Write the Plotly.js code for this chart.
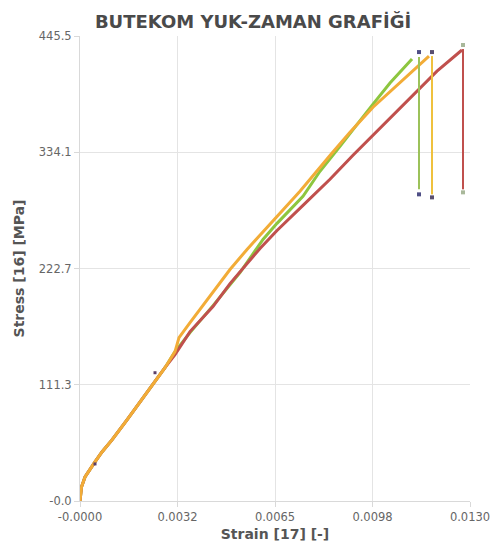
<!DOCTYPE html>
<html>
<head>
<meta charset="utf-8">
<script src="https://cdn.plot.ly/plotly-3.0.1.min.js"></script>
<style>html,body{margin:0;padding:0;background:#fff}#chart{width:500px;height:546px}</style>
</head>
<body>
<div id="chart"></div>
<script>
// ---- data ----
const xTickVals = [0, 0.00325, 0.0065, 0.00975, 0.013];
const xTickText = ["-0.0000", "0.0032", "0.0065", "0.0098", "0.0130"];
const yTickVals = [0, 111.375, 222.75, 334.125, 445.5];
const yTickText = ["-0.0", "111.3", "222.7", "334.1", "445.5"];

const redStrain = [0, 0.0000167, 0.00005, 0.000167, 0.000333, 0.0005, 0.000733, 0.001067, 0.001567, 0.002, 0.002433, 0.002833, 0.003167, 0.003667, 0.004433, 0.005, 0.006, 0.006567, 0.007433, 0.008333, 0.0091, 0.009767, 0.010567, 0.011233, 0.0119, 0.012733];
const redStress = [0, 6.7, 13.4, 23.0, 30.7, 37.4, 47.0, 58.6, 77.8, 95.1, 111.4, 127.7, 140.2, 162.3, 186.3, 208.3, 242.0, 259.2, 283.2, 308.2, 331.2, 350.4, 373.5, 392.7, 411.9, 432.1];
const redDropStrain = [0.012767, 0.012767];
const redDropStress = [433.0, 298.6];
const redEndStrain = [0.012767, 0.012767];
const redEndStress = [436.9, 295.7];

const greenStrain = [0, 0.0000167, 0.00005, 0.000167, 0.000333, 0.0005, 0.000733, 0.001067, 0.001567, 0.002, 0.002433, 0.002833, 0.003167, 0.003667, 0.004433, 0.005333, 0.0061, 0.006567, 0.007433, 0.008, 0.008667, 0.009433, 0.009767, 0.010333, 0.011067];
const greenStress = [0, 6.7, 13.4, 23.0, 30.7, 37.4, 47.0, 58.6, 77.8, 95.1, 111.4, 127.7, 143.1, 161.3, 187.2, 218.9, 250.6, 266.0, 291.9, 315.9, 339.9, 368.7, 380.2, 400.4, 423.4];
const greenDropStrain = [0.0113, 0.0113];
const greenDropStress = [425.3, 298.6];
const greenEndStrain = [0.0113, 0.0113];
const greenEndStress = [430.1, 293.8];

const yellowStrain = [0, 0.0000167, 0.00005, 0.000167, 0.000333, 0.0005, 0.000733, 0.001067, 0.001567, 0.002, 0.002433, 0.002833, 0.003167, 0.0033, 0.003667, 0.004433, 0.005, 0.005567, 0.006567, 0.007333, 0.008367, 0.009, 0.009767, 0.0105, 0.011233, 0.011633];
const yellowStress = [0, 6.7, 13.4, 23.0, 30.7, 37.4, 47.0, 58.6, 77.8, 95.1, 111.4, 127.7, 143.1, 156.5, 170.9, 199.7, 221.8, 241.0, 272.7, 296.7, 332.2, 353.3, 377.3, 396.5, 415.7, 426.3];
const yellowDropStrain = [0.011733, 0.011733];
const yellowDropStress = [426.3, 293.8];
const yellowEndStrain = [0.011733, 0.011733];
const yellowEndStress = [430.1, 290.9];

const dotStrain = [0.0005, 0.0025];
const dotStress = [35.5, 122.9];

// ---- styles ----
const RED = '#c0504d', GREEN = '#8dc63f', YELLOW = '#f2ac37';
const tickFont = {family: 'DejaVu Sans', size: 11.5, color: '#666666'};
const titleFont = {family: 'DejaVu Sans', size: 14, weight: 'bold', color: '#555555'};

const traces = [
  {x: greenStrain, y: greenStress, mode: 'lines', line: {color: GREEN, width: 3}},
  {x: redStrain, y: redStress, mode: 'lines', line: {color: RED, width: 3}},
  {x: yellowStrain, y: yellowStress, mode: 'lines', line: {color: YELLOW, width: 3}},
  {x: greenDropStrain, y: greenDropStress, mode: 'lines', line: {color: '#9cc25a', width: 2}},
  {x: yellowDropStrain, y: yellowDropStress, mode: 'lines', line: {color: '#efc13e', width: 2}},
  {x: redDropStrain, y: redDropStress, mode: 'lines', line: {color: RED, width: 2}},
  {x: greenEndStrain, y: greenEndStress, mode: 'markers', marker: {symbol: 'square', size: 4, color: '#4f4f86'}},
  {x: yellowEndStrain, y: yellowEndStress, mode: 'markers', marker: {symbol: 'square', size: 4, color: '#5a4f70'}},
  {x: redEndStrain, y: redEndStress, mode: 'markers', marker: {symbol: 'square', size: 4, color: '#a9b89a'}},
  {x: dotStrain, y: dotStress, mode: 'markers', marker: {symbol: 'square', size: 3, color: '#5a3f6a'}}
];
traces.forEach(t => { t.hoverinfo = 'skip'; t.cliponaxis = false; });

const axisBase = {
  showgrid: true, gridcolor: '#e4e4e4', gridwidth: 1,
  zeroline: false, showline: true, linecolor: '#d9d9d9', linewidth: 1,
  ticks: 'outside', ticklen: 5, tickcolor: '#d9d9d9',
  tickfont: tickFont, fixedrange: true
};

const layout = {
  width: 500, height: 546,
  margin: {l: 80, r: 30, t: 36, b: 45, pad: 0},
  paper_bgcolor: '#ffffff', plot_bgcolor: '#ffffff',
  showlegend: false,
  title: {
    text: 'BUTEKOM YUK-ZAMAN GRAFİĞİ',
    font: {family: 'DejaVu Sans', size: 18, weight: 'bold', color: '#4a4a4a'},
    xref: 'container', x: 0.506, xanchor: 'center',
    yref: 'container', y: 0.96, yanchor: 'middle'
  },
  xaxis: Object.assign({}, axisBase, {
    range: [0, 0.013], tickmode: 'array', tickvals: xTickVals, ticktext: xTickText,
    title: {text: 'Strain [17] [-]', font: titleFont, standoff: 6}
  }),
  yaxis: Object.assign({}, axisBase, {
    range: [0, 445.5], tickmode: 'array', tickvals: yTickVals, ticktext: yTickText,
    title: {text: 'Stress [16] [MPa]', font: titleFont, standoff: 10}
  })
};

Plotly.newPlot('chart', traces, layout, {displayModeBar: false, staticPlot: true});
</script>
</body>
</html>
